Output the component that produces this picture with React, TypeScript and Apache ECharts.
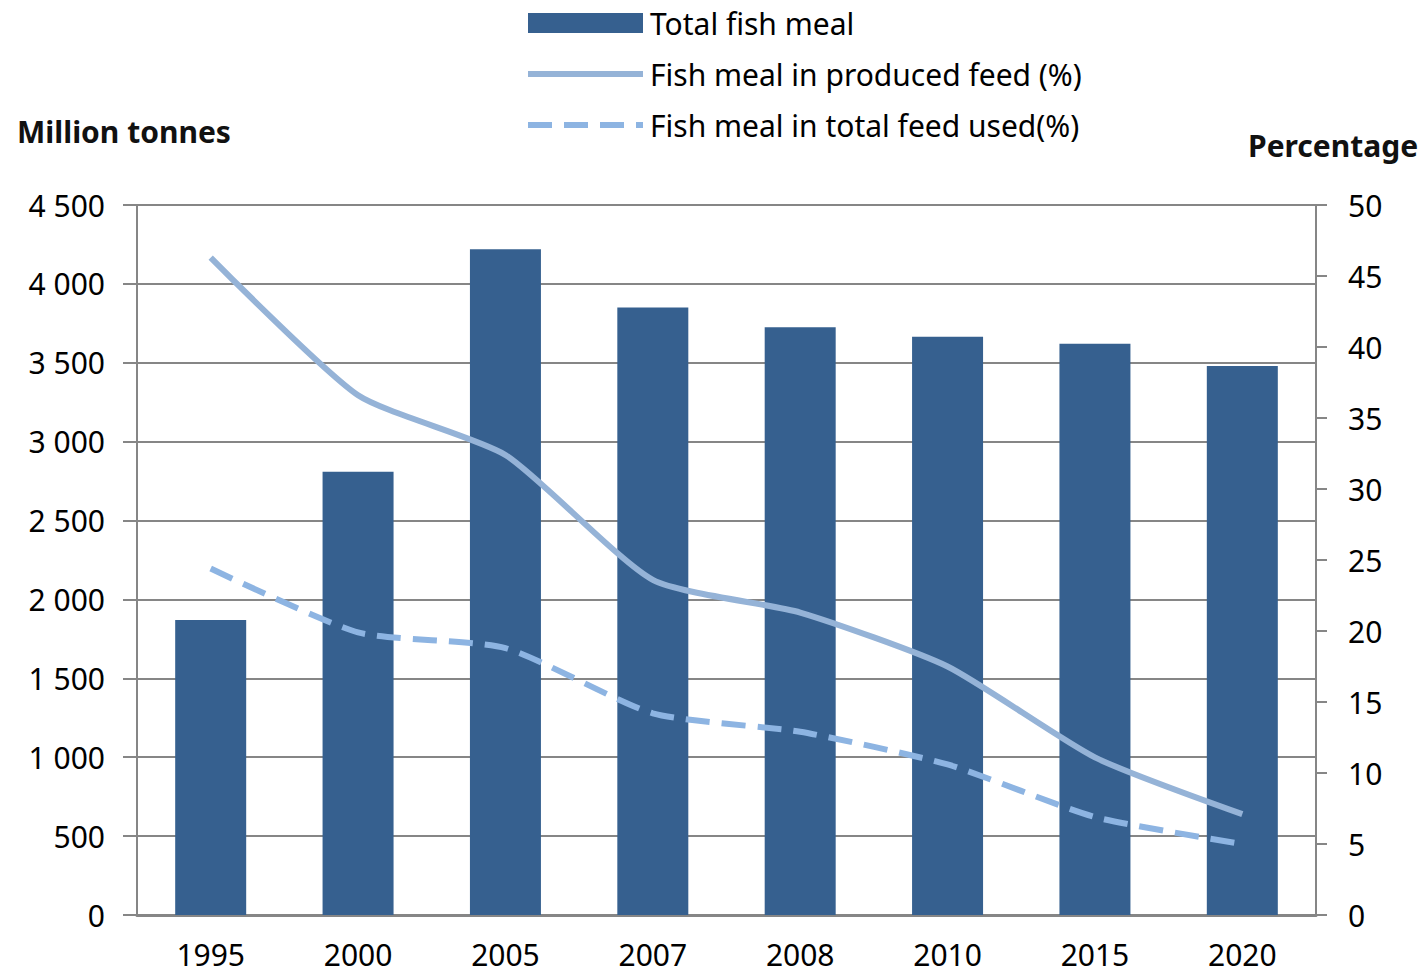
import React, { useEffect, useRef } from 'react';
import * as echarts from 'echarts';

const years = ['1995', '2000', '2005', '2007', '2008', '2010', '2015', '2020'];
const totalFishMeal = [1870, 2810, 4220, 3850, 3725, 3665, 3620, 3480];
const producedFeedPct = [46.3, 36.6, 32.4, 23.6, 21.3, 17.5, 11.1, 7.1];
const totalFeedPct = [24.4, 19.9, 18.8, 14.2, 12.9, 10.6, 6.9, 5.0];
const seriesNames = ['Total fish meal', 'Fish meal in produced feed (%)', 'Fish meal in total feed used(%)'];
const axisTitles = ['Million tonnes', 'Percentage'];

const FONT = '"Noto Sans", sans-serif';
const AXIS_GRAY = '#868686';
const BAR_COLOR = '#36608f';
const SOLID_COLOR = '#95b3d7';
const DASH_COLOR = '#8db4e2';

const fmtThousands = (v: number) =>
  v >= 1000 ? `${Math.floor(v / 1000)} ${String(v % 1000).padStart(3, '0')}` : String(v);

export default function App() {
  const ref = useRef<HTMLDivElement>(null);
  useEffect(() => {
    if (!ref.current) return;
    const chart = echarts.init(ref.current, undefined, { renderer: 'svg' });
    const labelStyle = { fontSize: 30, color: '#000', fontFamily: FONT };
    chart.setOption({
      animation: false,
      backgroundColor: '#fff',
      grid: { left: 137, right: 109, top: 205, bottom: 59 },
      legend: {
        orient: 'vertical',
        left: 525,
        top: 8,
        padding: 0,
        itemWidth: 115,
        itemHeight: 20,
        itemGap: 21,
        textStyle: { ...labelStyle, lineHeight: 30, padding: [0, 0, 0, 2] },
        lineStyle: { width: 6 },
        data: [
          { name: seriesNames[0], icon: 'rect' },
          { name: seriesNames[1], itemStyle: { opacity: 0 } },
          { name: seriesNames[2], itemStyle: { opacity: 0 } },
        ],
      },
      graphic: [
        {
          type: 'text',
          x: 17,
          y: 131,
          style: {
            text: axisTitles[0],
            fontSize: 30,
            fontWeight: 'bold',
            fontFamily: FONT,
            fill: '#111',
            verticalAlign: 'middle',
          },
        },
        {
          type: 'text',
          x: 1248,
          y: 145,
          style: {
            text: axisTitles[1],
            fontSize: 30,
            fontWeight: 'bold',
            fontFamily: FONT,
            fill: '#111',
            verticalAlign: 'middle',
          },
        },
      ],
      xAxis: {
        type: 'category',
        data: years,
        axisLine: { show: true, lineStyle: { color: AXIS_GRAY, width: 3 } },
        axisTick: { show: false },
        axisLabel: { ...labelStyle, margin: 24 },
      },
      yAxis: [
        {
          type: 'value',
          min: 0,
          max: 4500,
          interval: 500,
          axisLine: { show: true, lineStyle: { color: AXIS_GRAY, width: 2 } },
          axisTick: { show: true, length: 14, lineStyle: { color: AXIS_GRAY, width: 2 } },
          splitLine: { show: true, lineStyle: { color: AXIS_GRAY, width: 2 } },
          axisLabel: { ...labelStyle, margin: 32, formatter: (v: number) => fmtThousands(v) },
        },
        {
          type: 'value',
          position: 'right',
          min: 0,
          max: 50,
          interval: 5,
          axisLine: { show: true, lineStyle: { color: AXIS_GRAY, width: 2 } },
          axisTick: { show: true, length: 11, lineStyle: { color: AXIS_GRAY, width: 2 } },
          splitLine: { show: false },
          axisLabel: { ...labelStyle, margin: 32 },
        },
      ],
      series: [
        {
          name: seriesNames[0],
          type: 'bar',
          yAxisIndex: 0,
          data: totalFishMeal,
          barWidth: 71,
          itemStyle: { color: BAR_COLOR },
        },
        {
          name: seriesNames[1],
          type: 'line',
          yAxisIndex: 1,
          data: producedFeedPct,
          smooth: 0.2,
          symbol: 'none',
          lineStyle: { width: 6, color: SOLID_COLOR },
          itemStyle: { color: SOLID_COLOR },
        },
        {
          name: seriesNames[2],
          type: 'line',
          yAxisIndex: 1,
          data: totalFeedPct,
          smooth: 0.2,
          symbol: 'none',
          lineStyle: { width: 6, color: DASH_COLOR, type: [24, 12] },
          itemStyle: { color: DASH_COLOR },
        },
      ],
    });
    return () => chart.dispose();
  }, []);
  return (
    <div
      ref={ref}
      style={{ position: 'absolute', left: 0, top: 0, width: 1425, height: 974 }}
    />
  );
}
